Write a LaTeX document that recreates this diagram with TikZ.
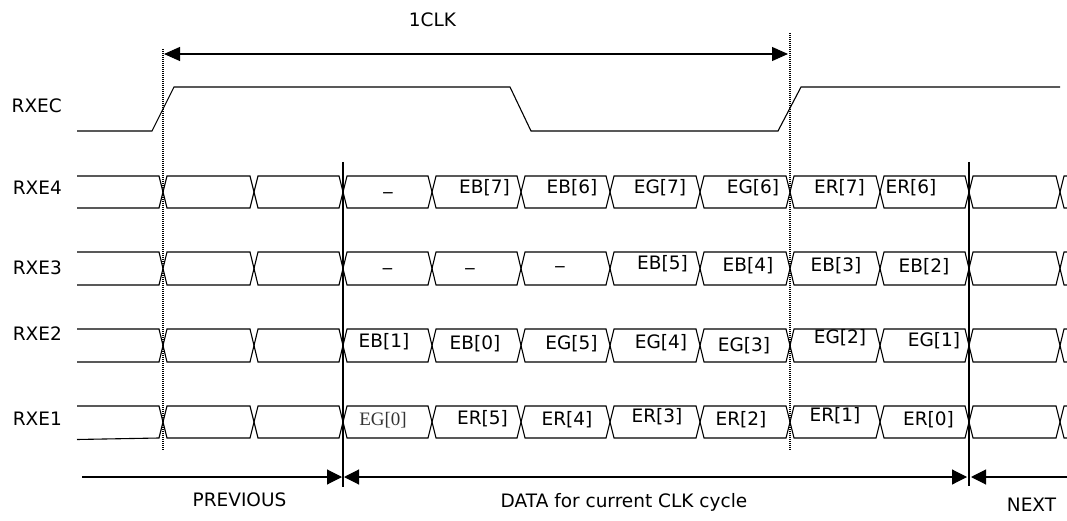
\documentclass[tikz,border=0pt]{standalone}
\usepackage{fontspec}
\setmainfont{DejaVu Sans}
\newfontfamily\serifface{Liberation Serif}
\usetikzlibrary{arrows.meta}
\begin{document}
\begin{tikzpicture}[x=1pt,y=-1pt,
  sig/.style={line width=1.1pt, line join=miter},
  guide/.style={line width=1.1pt, dash pattern=on 1pt off 1pt},
  marker/.style={line width=1.1pt},
  txt/.style={inner sep=0pt, font=\fontsize{18.5}{20}\selectfont},
  serif/.style={inner sep=0pt, font=\serifface\fontsize{19}{21}\selectfont, text=black!80},
  tipA/.style={line width=1.1pt, {Triangle[length=16pt,width=14pt]}-{Triangle[length=16pt,width=14pt]}},
  tipR/.style={line width=1.1pt, -{Triangle[length=15pt,width=15pt]}},
  tipL/.style={line width=1.1pt, {Triangle[length=15pt,width=15pt]}-},
  tipB/.style={line width=1.1pt, {Triangle[length=15pt,width=15pt]}-{Triangle[length=15pt,width=15pt]}}
]
\useasboundingbox (0,0) rectangle (1067,521);

% clock waveform
\draw[sig] (77,131) -- (152,131) -- (174,87) -- (510,87) -- (531,131)
  -- (778,131) -- (801,87) -- (1060,87);

% bus waveforms: one hexagon per data slot
\foreach \yt/\yb in {176/208,252/285,329/362,406/438}{
  \pgfmathsetmacro\ym{(\yt+\yb)/2}
  \foreach \a/\b in {163/254,254/343,343/432,432/521,521/610,610/700,700/790,790/880,880/969,969/1060}{
    \draw[sig] (\a,\ym) -- (\a+4,\yt) -- (\b-4,\yt) -- (\b,\ym) -- (\b-4,\yb) -- (\a+4,\yb) -- cycle;
  }
  \draw[sig] (77,\yt) -- (159,\yt) -- (163,\ym);
  \draw[sig] (1067,\yt) -- (1064,\yt) -- (1060,\ym) -- (1064,\yb) -- (1067,\yb);
}
\draw[sig] (77,208) -- (159,208) -- (163,192);
\draw[sig] (77,285) -- (159,285) -- (163,268.5);
\draw[sig] (77,362) -- (159,362) -- (163,345.5);
\draw[sig] (77,439.5) -- (159,438) -- (163,422);

% timing guides
\draw[guide] (163,49) -- (163,451);
\draw[guide] (790,33) -- (790,450);
\draw[marker] (343,162) -- (343,487);
\draw[marker] (969,162) -- (969,486);

% period arrows
\coordinate (clkL) at (164,54);
\coordinate (clkR) at (788,54);
\draw[tipA] (clkL) -- (clkR);
\coordinate (prevL) at (82,477);
\coordinate (prevR) at (342,477);
\coordinate (curL) at (344,477);
\coordinate (curR) at (967,477);
\coordinate (nextL) at (971,477);
\coordinate (nextR) at (1067,477);
\draw[tipR] (prevL) -- (prevR);
\draw[tipB] (curL) -- (curR);
\draw[tipL] (nextL) -- (nextR);

% captions
\node[txt, anchor=base] (tclk) at (432.5,26.5) {1CLK};
\node[txt, anchor=base] (tprev) at (239.5,506) {PREVIOUS};
\node[txt, anchor=base] (tcur) at (624,507) {DATA for current CLK cycle};
\node[txt, anchor=base] (tnext) at (1031.5,511.5) {NEXT};

% signal names
\node[txt, anchor=east] (nclk) at (62,106) {RXEC};
\node[txt, anchor=east] (n4) at (62,188) {RXE4};
\node[txt, anchor=east] (n3) at (62,268) {RXE3};
\node[txt, anchor=east] (n2) at (62,334) {RXE2};
\node[txt, anchor=east] (n1) at (62,419) {RXE1};

% RXE4 slots
\node[txt, anchor=base] (a1) at (388,189.5) {\_};
\node[txt] (a2) at (484.5,188) {EB[7]};
\node[txt] (a3) at (572,188) {EB[6]};
\node[txt] (a4) at (660,188) {EG[7]};
\node[txt] (a5) at (753,188) {EG[6]};
\node[txt] (a6) at (839.5,188) {ER[7]};
\node[txt] (a7) at (911,188) {ER[6]};

% RXE3 slots
\node[txt, anchor=base] (b1) at (387.5,265.5) {\_};
\node[txt, anchor=base] (b2) at (470,265.5) {\_};
\node[txt, anchor=base] (b3) at (560,263.5) {\_};
\node[txt] (b4) at (662.5,264) {EB[5]};
\node[txt] (b5) at (748,266) {EB[4]};
\node[txt] (b6) at (836,266) {EB[3]};
\node[txt] (b7) at (924,267) {EB[2]};

% RXE2 slots
\node[txt] (c1) at (384,342) {EB[1]};
\node[txt] (c2) at (475,344) {EB[0]};
\node[txt] (c3) at (571.5,343.5) {EG[5]};
\node[txt] (c4) at (661,342.5) {EG[4]};
\node[txt] (c5) at (744,346) {EG[3]};
\node[txt] (c6) at (840,338) {EG[2]};
\node[txt] (c7) at (934,341) {EG[1]};

% RXE1 slots
\node[serif] (d1) at (383,420) {EG[0]};
\node[txt] (d2) at (482.5,419) {ER[5]};
\node[txt] (d3) at (567,420) {ER[4]};
\node[txt] (d4) at (657,416.5) {ER[3]};
\node[txt] (d5) at (741,420) {ER[2]};
\node[txt] (d6) at (835,415.5) {ER[1]};
\node[txt] (d7) at (928.5,420) {ER[0]};
\end{tikzpicture}
\end{document}
